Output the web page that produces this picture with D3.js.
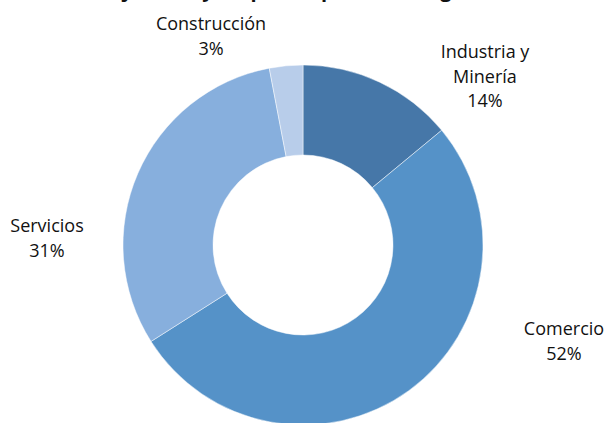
<!DOCTYPE html>
<html>
<head>
<meta charset="utf-8">
<script src="https://cdn.jsdelivr.net/npm/d3@7/dist/d3.min.js"></script>
<style>
  html, body { margin: 0; padding: 0; background: #fff; overflow: hidden; }
  svg { display: block; }
  text { font-family: "Open Sans", "Noto Sans", sans-serif; fill: #111; }
</style>
</head>
<body>
<svg id="chart" width="608" height="423"></svg>
<script>
const categories = ["Industria y Minería", "Comercio", "Servicios", "Construcción"];
const values = [14, 52, 31, 3];
const labelLines = [["Industria y", "Minería", "14%"], ["Comercio", "52%"], ["Servicios", "31%"], ["Construcción", "3%"]];
const colors = ["#4677A8", "#5592C8", "#87AFDD", "#B8CDEA"];
const titleText = "Distribución de trabajadores y empresas por rama según su actividad principal";

const width = 608, height = 423;
const cx = 303, cy = 245, outerR = 180, innerR = 90;
const svg = d3.select("#chart");

// Title (cropped at the top edge in the reference: only descenders show)
svg.append("text")
  .attr("x", width / 2)
  .attr("y", -3.5)
  .attr("text-anchor", "middle")
  .style("font-size", "20px")
  .style("font-weight", "bold")
  .text(titleText);

const data = categories.map((c, i) => ({ name: c, value: values[i], lines: labelLines[i], color: colors[i] }));

const pie = d3.pie().value(d => d.value).sort(null);
const arc = d3.arc().innerRadius(innerR).outerRadius(outerR);
const arcs = pie(data);

const g = svg.append("g").attr("transform", `translate(${cx},${cy})`);
g.selectAll("path")
  .data(arcs)
  .join("path")
  .attr("d", arc)
  .attr("fill", d => d.data.color)
  .attr("stroke", "#ffffff")
  .attr("stroke-opacity", 0.6)
  .attr("stroke-width", 0.8);

// Label anchors (centre x, first baseline y) in page pixels
const labelPos = [[485, 58], [564, 335], [47, 232], [211, 30]];
const lineH = 24.5;
arcs.forEach((a, i) => {
  const [x, y0] = labelPos[i];
  const t = svg.append("text")
    .attr("text-anchor", "middle")
    .style("font-size", "18px");
  a.data.lines.forEach((line, j) => {
    t.append("tspan")
      .attr("x", x)
      .attr("y", y0 + j * lineH)
      .text(line);
  });
});
</script>
</body>
</html>
